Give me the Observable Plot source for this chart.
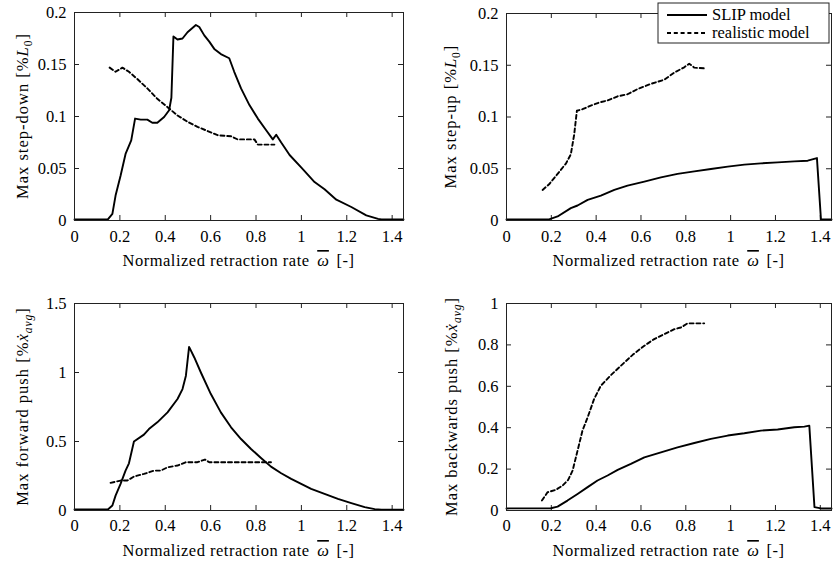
<!DOCTYPE html>
<html>
<head>
<meta charset="utf-8">
<script src="https://cdn.jsdelivr.net/npm/d3@7"></script>
<script src="https://cdn.jsdelivr.net/npm/@observablehq/plot@0.6"></script>
<style>
  html, body { margin: 0; padding: 0; background: white; }
  #chart { position: relative; width: 833px; height: 562px; background: white; }
  #chart text { font-family: "Liberation Serif", "Times New Roman", serif; }
</style>
</head>
<body>
<div id="chart"></div>
<script>
// ---- tick labels ----
const xTicks = [0, 0.2, 0.4, 0.6, 0.8, 1, 1.2, 1.4];
const stepDownTicks = [0, 0.05, 0.1, 0.15, 0.2];
const stepUpTicks = [0, 0.05, 0.1, 0.15, 0.2];
const forwardTicks = [0, 0.5, 1, 1.5];
const backwardTicks = [0, 0.2, 0.4, 0.6, 0.8, 1];

// ---- series: [omega, value] ----
const stepDownSlip = [[0,0.001],[0.147,0.001],[0.167,0.0064],[0.181,0.024],[0.203,0.043],[0.225,0.064],[0.25,0.077],[0.267,0.098],[0.292,0.097],[0.321,0.097],[0.343,0.094],[0.365,0.094],[0.395,0.0995],[0.417,0.106],[0.427,0.118],[0.436,0.177],[0.454,0.174],[0.476,0.175],[0.498,0.181],[0.535,0.188],[0.55,0.186],[0.572,0.178],[0.594,0.172],[0.616,0.165],[0.645,0.160],[0.682,0.156],[0.704,0.143],[0.734,0.127],[0.771,0.111],[0.808,0.098],[0.844,0.087],[0.874,0.078],[0.889,0.0825],[0.911,0.075],[0.948,0.063],[0.999,0.051],[1.058,0.037],[1.102,0.030],[1.154,0.020],[1.22,0.013],[1.286,0.005],[1.338,0.0016],[1.353,0.001],[1.45,0.001]];
const stepDownReal = [[0.155,0.147],[0.181,0.143],[0.211,0.147],[0.24,0.143],[0.277,0.136],[0.321,0.127],[0.365,0.117],[0.41,0.109],[0.454,0.101],[0.498,0.095],[0.542,0.090],[0.587,0.086],[0.631,0.082],[0.69,0.081],[0.719,0.078],[0.793,0.078],[0.808,0.073],[0.881,0.073]];

const stepUpSlip = [[0,0.001],[0.19,0.001],[0.228,0.0039],[0.287,0.012],[0.317,0.0145],[0.362,0.020],[0.421,0.024],[0.481,0.0295],[0.54,0.0337],[0.615,0.0376],[0.689,0.0417],[0.763,0.045],[0.838,0.0475],[0.912,0.0498],[0.987,0.052],[1.061,0.054],[1.135,0.0552],[1.21,0.0562],[1.284,0.0571],[1.344,0.0578],[1.385,0.0603],[1.403,0.001],[1.45,0.001]];
const stepUpReal = [[0.161,0.0295],[0.19,0.035],[0.228,0.045],[0.265,0.055],[0.287,0.064],[0.302,0.083],[0.314,0.106],[0.339,0.1075],[0.376,0.111],[0.414,0.114],[0.451,0.116],[0.496,0.120],[0.54,0.122],[0.585,0.127],[0.644,0.132],[0.704,0.136],[0.749,0.143],[0.793,0.148],[0.815,0.1515],[0.838,0.1477],[0.882,0.147]];

const forwardSlip = [[0,0.007],[0.147,0.007],[0.167,0.036],[0.181,0.108],[0.203,0.193],[0.225,0.289],[0.24,0.342],[0.262,0.5],[0.306,0.55],[0.328,0.59],[0.365,0.639],[0.41,0.711],[0.454,0.808],[0.476,0.88],[0.491,0.977],[0.505,1.186],[0.528,1.109],[0.557,1.0],[0.601,0.844],[0.645,0.711],[0.69,0.603],[0.734,0.518],[0.778,0.446],[0.822,0.381],[0.866,0.318],[0.911,0.27],[0.955,0.229],[0.999,0.193],[1.043,0.157],[1.102,0.12],[1.161,0.084],[1.22,0.053],[1.279,0.024],[1.323,0.0096],[1.353,0.005],[1.45,0.005]];
const forwardReal = [[0.159,0.2],[0.203,0.217],[0.233,0.217],[0.262,0.246],[0.306,0.265],[0.351,0.289],[0.38,0.289],[0.41,0.313],[0.454,0.326],[0.491,0.35],[0.542,0.35],[0.575,0.369],[0.594,0.35],[0.866,0.35]];

const backwardSlip = [[0,0.01],[0.198,0.011],[0.228,0.019],[0.272,0.048],[0.317,0.08],[0.362,0.113],[0.406,0.145],[0.451,0.169],[0.496,0.196],[0.555,0.225],[0.615,0.257],[0.689,0.281],[0.763,0.305],[0.838,0.326],[0.912,0.346],[0.987,0.362],[1.061,0.373],[1.135,0.386],[1.21,0.391],[1.284,0.402],[1.329,0.405],[1.351,0.41],[1.374,0.016],[1.403,0.01],[1.45,0.01]];
const backwardReal = [[0.158,0.048],[0.183,0.088],[0.22,0.1],[0.25,0.12],[0.275,0.148],[0.295,0.193],[0.317,0.289],[0.339,0.386],[0.362,0.45],[0.391,0.539],[0.421,0.603],[0.466,0.654],[0.51,0.699],[0.563,0.752],[0.615,0.796],[0.659,0.828],[0.704,0.852],[0.749,0.876],[0.778,0.884],[0.808,0.904],[0.882,0.904]];

const legendLabels = ["SLIP model", "realistic model"];

const FONT = "Liberation Serif, Times New Roman, serif";
const FRAME = "#222";
const DASH = "4,2.8";
const container = document.getElementById("chart");

function panel({slip, real, yDomain, yTicks, width, height, ml, mr, mt, mb, left, top, ylabel, xPad, ylx}) {
  const W = width - ml - mr, H = height - mt - mb;
  const fmt = d => String(d);
  const svgEl = Plot.plot({
    width, height,
    marginLeft: ml, marginRight: mr, marginTop: mt, marginBottom: mb,
    style: {fontFamily: FONT, fontSize: "16px", background: "white", color: "black", overflow: "visible"},
    x: {domain: [0, 1.45]},
    y: {domain: yDomain},
    marks: [
      Plot.tickX(xTicks, {x: d => d, insetTop: H - 5, stroke: FRAME}),
      Plot.tickX(xTicks, {x: d => d, insetBottom: H - 5, stroke: FRAME}),
      Plot.tickY(yTicks, {y: d => d, insetRight: W - 5, stroke: FRAME}),
      Plot.tickY(yTicks, {y: d => d, insetLeft: W - 5, stroke: FRAME}),
      Plot.axisX(xTicks, {tickSize: 0, tickPadding: xPad, tickFormat: fmt, label: null, fill: "black", fontSize: 16.5}),
      Plot.axisY(yTicks, {tickSize: 0, tickPadding: 8, tickFormat: fmt, label: null, fill: "black", fontSize: 16.5}),
      Plot.line(real, {x: d => d[0], y: d => d[1], stroke: "black", strokeWidth: 1.9, strokeDasharray: DASH}),
      Plot.line(slip, {x: d => d[0], y: d => d[1], stroke: "black", strokeWidth: 1.9}),
      Plot.frame({stroke: FRAME, strokeWidth: 1})
    ]
  });
  svgEl.style.position = "absolute";
  svgEl.style.left = left + "px";
  svgEl.style.top = top + "px";
  container.append(svgEl);

  const svg = d3.select(svgEl);
  // y label
  const yl = svg.append("text")
    .attr("transform", `translate(${ylx},${mt + H / 2}) rotate(-90)`)
    .attr("text-anchor", "middle").attr("dy", "0.35em")
    .attr("font-family", FONT).attr("font-size", 16.5).attr("letter-spacing", 1)
    .attr("fill", "black");
  ylabel(yl);
  // x label
  const xl = svg.append("text")
    .attr("x", ml + W / 2).attr("y", mt + H + 46)
    .attr("text-anchor", "middle")
    .attr("font-family", FONT).attr("font-size", 16.5).attr("letter-spacing", 0.5)
    .attr("fill", "black");
  xl.append("tspan").text("Normalized retraction rate ");
  xl.append("tspan").attr("dx", 3).attr("font-style", "italic").attr("letter-spacing", 0)
    .style("text-decoration", "overline").text("\u03C9");
  xl.append("tspan").attr("dx", 3).text(" [-]");
  return svg;
}

function lenLabel(prefix) {
  return t => {
    t.append("tspan").text(prefix + " [%");
    t.append("tspan").attr("font-style", "italic").text("L");
    t.append("tspan").attr("font-size", 11.5).attr("dy", 4).text("0");
    t.append("tspan").attr("dy", -4).text("]");
  };
}
function velLabel(prefix) {
  return t => {
    t.append("tspan").text(prefix + " [%");
    t.append("tspan").attr("font-style", "italic").text("\u1E8B");
    t.append("tspan").attr("font-size", 11.5).attr("font-style", "italic").attr("dy", 4).text("avg");
    t.append("tspan").attr("dy", -4).text("]");
  };
}

panel({slip: stepDownSlip, real: stepDownReal, yDomain: [0, 0.2], yTicks: stepDownTicks,
  width: 416, height: 280, ml: 74, mr: 13, mt: 12, mb: 60, left: 0, top: 0, xPad: 10, ylx: 22,
  ylabel: lenLabel("Max step-down")});

const p2 = panel({slip: stepUpSlip, real: stepUpReal, yDomain: [0, 0.2], yTicks: stepUpTicks,
  width: 417, height: 280, ml: 90, mr: 2, mt: 13, mb: 60, left: 416, top: 0, xPad: 10, ylx: 34,
  ylabel: lenLabel("Max step-up")});

panel({slip: forwardSlip, real: forwardReal, yDomain: [0, 1.5], yTicks: forwardTicks,
  width: 416, height: 282, ml: 74, mr: 13, mt: 23, mb: 52, left: 0, top: 280, xPad: 9, ylx: 22,
  ylabel: velLabel("Max forward push")});

panel({slip: backwardSlip, real: backwardReal, yDomain: [0, 1], yTicks: backwardTicks,
  width: 417, height: 282, ml: 90, mr: 2, mt: 23, mb: 52, left: 416, top: 280, xPad: 9, ylx: 35,
  ylabel: velLabel("Max backwards push")});

// legend inside top-right panel
const lg = p2.append("g").attr("text-anchor", "start");
lg.append("rect").attr("x", 242).attr("y", 3).attr("width", 171).attr("height", 40)
  .attr("fill", "white").attr("stroke", FRAME).attr("stroke-width", 1);
[0, 1].forEach(i => {
  const y = 15 + i * 18;
  lg.append("line").attr("x1", 251).attr("x2", 291).attr("y1", y).attr("y2", y)
    .attr("stroke", "black").attr("stroke-width", 1.9)
    .attr("stroke-dasharray", i === 1 ? DASH : null);
  lg.append("text").attr("x", 296).attr("y", y).attr("dy", "0.32em")
    .attr("text-anchor", "start")
    .attr("font-family", FONT).attr("font-size", 16.5).attr("fill", "black")
    .text(legendLabels[i]);
});
</script>
</body>
</html>
